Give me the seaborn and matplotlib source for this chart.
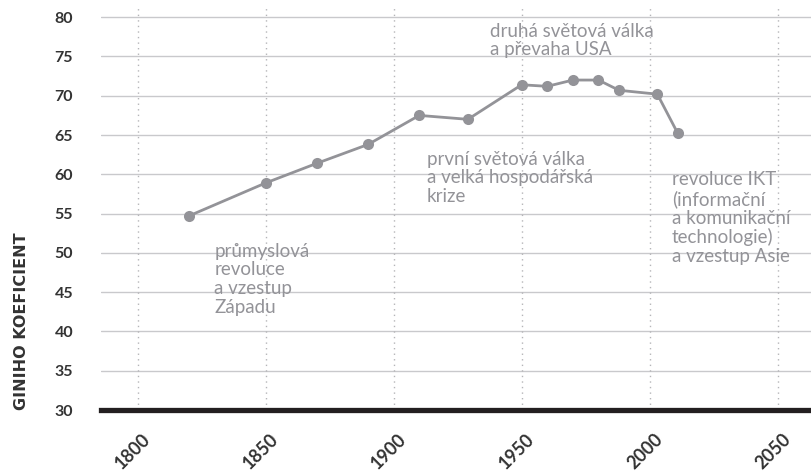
import numpy as np
import pandas as pd
import matplotlib.pyplot as plt
import matplotlib.transforms as mtrans
import seaborn as sns

# Gini coefficient over time
years = [1820, 1850, 1870, 1890, 1910, 1929, 1950, 1960, 1970, 1980, 1988, 2003, 2011]
gini = [54.7, 58.9, 61.4, 63.8, 67.5, 67.0, 71.4, 71.2, 72.0, 72.0, 70.7, 70.2, 65.2]
x_ticks = [1800, 1850, 1900, 1950, 2000, 2050]
y_ticks = [30, 35, 40, 45, 50, 55, 60, 65, 70, 75, 80]
notes = ['průmyslová\nrevoluce\na vzestup\nZápadu',
         'první světová válka\na velká hospodářská\nkrize',
         'druhá světová válka\na převaha USA',
         'revoluce IKT\n(informační\na komunikační\ntechnologie)\na vzestup Asie']
note_x = [1830, 1913, 1937.5, 2008.7]
note_y = [51.3, 63.0, 79.3, 60.4]

df = pd.DataFrame({'year': years, 'gini': gini})

sns.set_style('white')
plt.rcParams['font.family'] = ['Lato', 'DejaVu Sans']

fig = plt.figure(figsize=(8.12, 4.71), dpi=100)
ax = fig.add_axes([0.1244, 0.1295, 0.8756, 0.854])

grey = '#939398'
for y in y_ticks[1:]:
    ax.axhline(y, color='#c9c9cc', lw=1, zorder=0)
for x in x_ticks:
    ax.axvline(x, color='#b5b5b8', lw=1, ls=(0, (1, 3)), zorder=0)

sns.lineplot(data=df, x='year', y='gini', ax=ax, color=grey, lw=2,
             marker='o', markersize=8, markeredgewidth=0, zorder=3)

for t, x, y in zip(notes, note_x, note_y):
    ax.text(x, y, t, color=grey, fontsize=13.5, va='top', ha='left',
            linespacing=1.12, zorder=4)

ax.set_xlim(1785.7, 2063.4)
ax.set_ylim(30, 81.2)
ax.set_xticks(x_ticks)
ax.set_yticks(y_ticks)
ax.set_xticklabels([str(v) for v in x_ticks], rotation=45, ha='right',
                   va='top', rotation_mode='anchor', fontsize=13,
                   fontweight='bold', color='#333333')
ax.set_yticklabels([str(v) for v in y_ticks], fontsize=11.5,
                   fontweight='bold', color='#333333')
ax.tick_params(axis='x', length=0, pad=15)
ax.tick_params(axis='y', length=0, pad=20)
shift = mtrans.ScaledTranslation(4 / 100, 0, fig.dpi_scale_trans)
for lab in ax.get_xticklabels():
    lab.set_transform(lab.get_transform() + shift)
ax.set_xlabel('')
ax.set_ylabel('')

for s in ['top', 'right', 'left']:
    ax.spines[s].set_visible(False)
ax.spines['bottom'].set_color('#231f20')
ax.spines['bottom'].set_linewidth(3.8)
ax.spines['bottom'].set_zorder(5)

fig.text(0.027, 0.318, 'GINIHO KOEFICIENT', rotation=90, ha='center',
         va='center', fontsize=11.5, fontweight='bold', color='#333333',
         family='DejaVu Sans')

fig.savefig('out.png', dpi=100)
